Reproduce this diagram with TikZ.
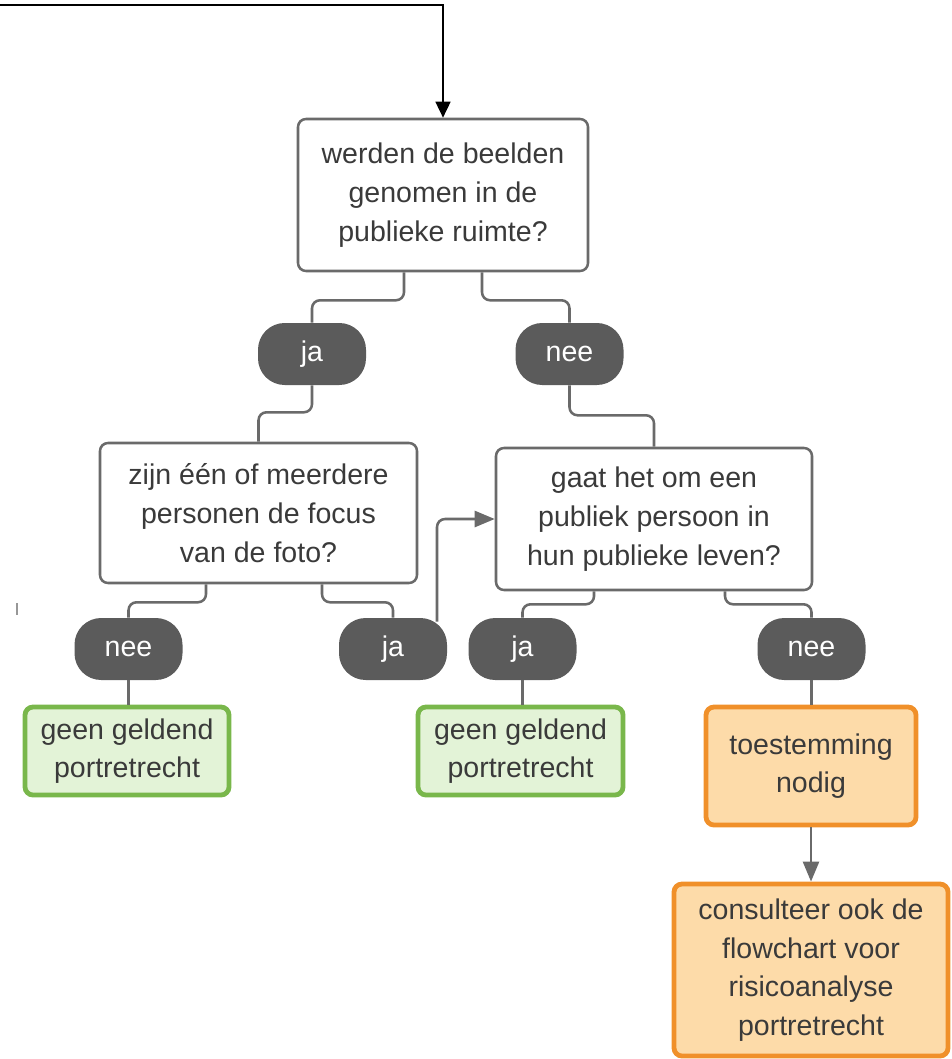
\documentclass[tikz,border=0pt]{standalone}
\usepackage{fontspec}
\setmainfont{Liberation Sans}
\usetikzlibrary{arrows.meta,calc}
\definecolor{linegray}{HTML}{6A6A6A}
\definecolor{pillgray}{HTML}{5B5B5B}
\definecolor{txtgray}{HTML}{3A3A3A}
\definecolor{grn}{HTML}{79B74B}
\definecolor{grnfill}{HTML}{E3F3D7}
\definecolor{org}{HTML}{F0902A}
\definecolor{orgfill}{HTML}{FDDBA9}
\begin{document}
\begin{tikzpicture}[x=0.75pt,y=-0.75pt,
  txt/.style={font=\fontsize{21.4}{29}\selectfont},
  qbox/.style={txt, draw=linegray, line width=1.9pt, rounded corners=6pt, fill=white,
    align=center, inner sep=0pt, text=txtgray},
  pill/.style={txt, fill=pillgray, rounded corners=20pt, minimum width=81pt,
    minimum height=46.5pt, inner sep=0pt, text=white, text height=11.1pt, text depth=0pt},
  greenbox/.style={txt, draw=grn, fill=grnfill, line width=3.6pt, rounded corners=6pt,
    align=center, inner sep=0pt, text=txtgray},
  orangebox/.style={txt, draw=org, fill=orgfill, line width=3.6pt, rounded corners=6pt,
    align=center, inner sep=0pt, text=txtgray},
  conn/.style={draw=linegray, line width=1.9pt, rounded corners=6pt},
  garrow/.style={conn, -{Triangle[width=12pt,length=15pt]}},
  toparrow/.style={draw=black, line width=1.9pt, -{Triangle[width=11pt,length=12pt]}}]
\useasboundingbox (0,0) rectangle (951,1059);

% nodes
\node[qbox, minimum width=217.5pt, minimum height=114pt] (q1) at (443,195)
  {werden de beelden\\genomen in de\\publieke ruimte?};
\node[pill] (ja1) at (312,354) {ja};
\node[pill] (nee1) at (569.5,354) {nee};
\node[qbox, minimum width=237.75pt, minimum height=105pt] (q2) at (258.5,513)
  {zijn één of meerdere\\personen de focus\\van de foto?};
\node[qbox, minimum width=237pt, minimum height=106.5pt] (q3) at (654,519)
  {gaat het om een\\publiek persoon in\\hun publieke leven?};
\node[pill] (nee2) at (128.5,649) {nee};
\node[pill] (ja2) at (393,649) {ja};
\node[pill] (ja3) at (522.5,649) {ja};
\node[pill] (nee3) at (811.5,649) {nee};
\node[greenbox, minimum width=153pt, minimum height=66pt] (g1) at (127,751)
  {geen geldend\\portretrecht};
\node[greenbox, minimum width=153.75pt, minimum height=66pt] (g2) at (520.5,751)
  {geen geldend\\portretrecht};
\node[orangebox, minimum width=157.5pt, minimum height=88.5pt] (o1) at (811,766)
  {toestemming\\nodig};
\node[orangebox, minimum width=205.5pt, minimum height=129pt] (o2) at (811,970)
  {consulteer ook de\\flowchart voor\\risicoanalyse\\portretrecht};

% top incoming connector
\coordinate (start) at (0,5);
\draw[toparrow] (start) -| (q1.north);

% connectors
\draw[conn] ($(q1.south)+(-39,0)$) -- ++(0,28) -| (ja1.north);
\draw[conn] ($(q1.south)+(39,0)$) -- ++(0,28) -| (nee1.north);
\draw[conn] (ja1.south) -- ++(0,27) -| (q2.north);
\draw[conn] (nee1.south) -- ++(0,30) -| (q3.north);
\draw[conn] ($(q2.south)+(-52.5,0)$) -- ++(0,18) -| (nee2.north);
\draw[conn] ($(q2.south)+(63.5,0)$) -- ++(0,18) -| (ja2.north);
\draw[garrow] ($(ja2.north)+(44,4)$) |- (q3.west);
\draw[conn] ($(q3.south)+(-60,0)$) -- ++(0,13) -| (ja3.north);
\draw[conn] ($(q3.south)+(71,0)$) -- ++(0,13) -| (nee3.north);
\draw[conn] (nee2.south) -- (nee2.south |- g1.north);
\draw[conn] (ja3.south) -- (ja3.south |- g2.north);
\draw[conn] (nee3.south) -- (nee3.south |- o1.north);
\draw[garrow] (o1.south) -- (o2.north);

% small stray tick
\draw[draw=linegray!70, line width=1.2pt] (17,603) -- (17,615);
\end{tikzpicture}
\end{document}
